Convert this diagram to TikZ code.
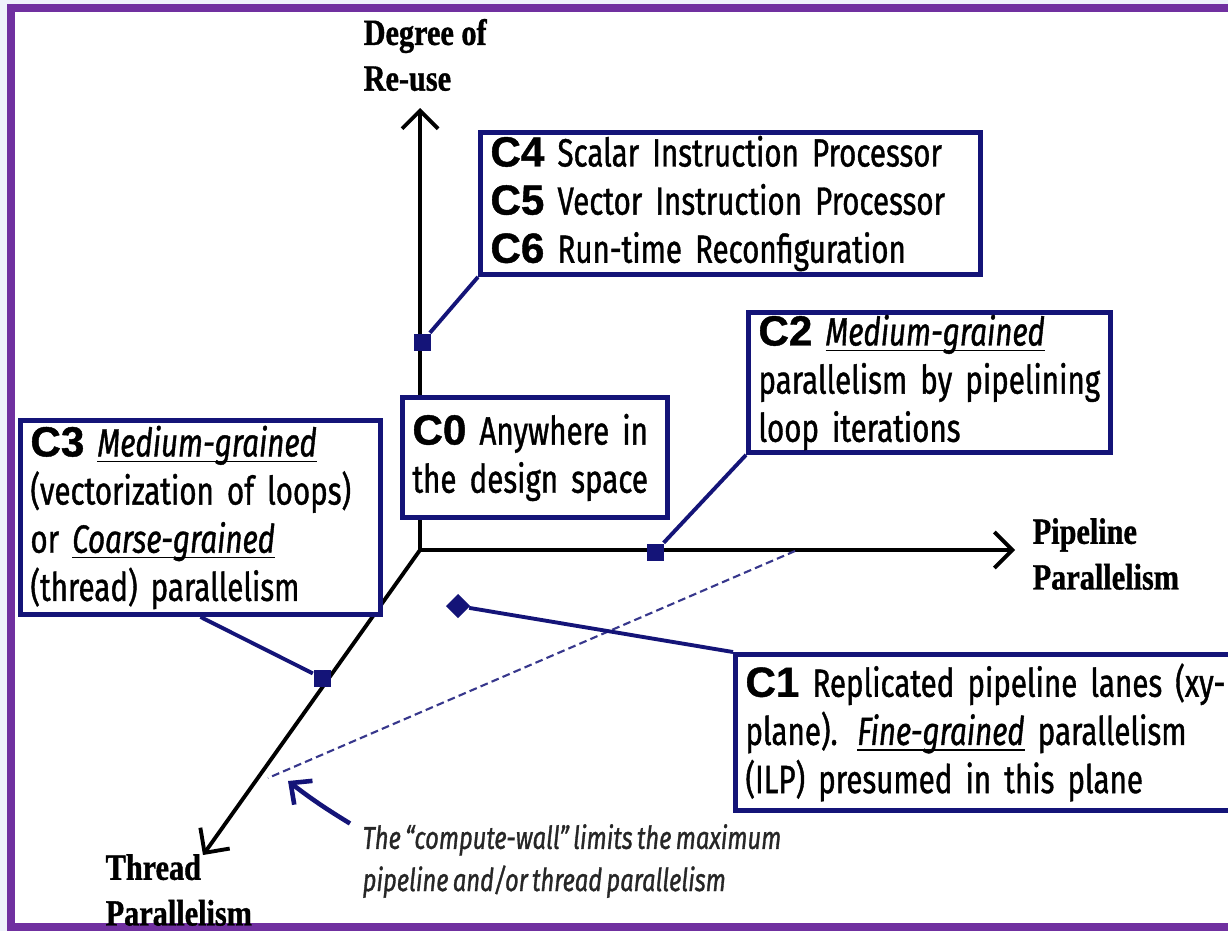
\documentclass[tikz,border=0pt]{standalone}
\usepackage{fontspec}
\setmainfont{Liberation Serif}
\newfontfamily\agency[FakeStretch=0.75, FakeBold=1, WordSpace=0.7]{Fira Sans}
\newfontfamily\tagfont[FakeBold=1]{Liberation Sans}
\newfontfamily\axisfont[FakeStretch=0.82, FakeBold=1]{Liberation Serif}
\usetikzlibrary{arrows.meta,calc}
\definecolor{navy}{RGB}{20,20,120}
\definecolor{frame}{RGB}{112,48,160}
\definecolor{outer}{RGB}{238,242,251}
\newcommand{\ctag}[1]{{\tagfont\bfseries\fontsize{12}{13.7}\selectfont #1}}
\newcommand{\grain}[1]{\underbar{\textit{#1}}}
\tikzset{
  box/.style={draw=navy, line width=1.4pt, fill=white, anchor=north west, align=left,
    inner xsep=0.1cm, inner ysep=0pt, font=\agency\fontsize{11.2}{13.7}\selectfont},
  axis/.style={line width=1.1pt, -{Straight Barb[length=1.8mm,width=3.6mm]}},
  link/.style={navy, line width=1.1pt},
  dot/.style={fill=navy, minimum size=0.17cm, inner sep=0pt},
  axlabel/.style={font=\axisfont\bfseries\fontsize{10.5}{13}\selectfont, align=left, anchor=west, inner sep=0pt}
}
\begin{document}
\begin{tikzpicture}
\useasboundingbox (0,0) rectangle (12.28,9.31);
\fill[outer] (0,0) rectangle (12.28,9.31); % page
\draw[frame, line width=0.08cm, fill=white] (0.11,0.04) rectangle (12.6,9.23); % frame

\coordinate (O) at (4.20,3.81); % origin
\coordinate (ytip) at (4.20,8.23);
\coordinate (xtip) at (10.15,3.81);
\coordinate (ttip) at (2.03,0.76);
\draw[axis] (O) -- (ytip); % re-use axis
\draw[axis] (O) -- (xtip); % pipeline axis
\draw[axis] (O) -- (ttip); % thread axis

\node[axlabel] (reuse) at (3.63,8.76) {Degree of\\Re-use};
\node[axlabel] (pipe) at (10.32,3.77) {Pipeline\\Parallelism};
\node[axlabel] (thread) at (1.05,0.41) {Thread\\Parallelism};

% compute wall
\coordinate (wallx) at (7.95,3.80);
\coordinate (wallt) at (2.68,1.53);
\draw[navy!85, line width=0.6pt, dash pattern=on 2.2pt off 1.2pt] (wallx) -- (wallt);

% boxes
\node[box, text width=4.8cm, minimum height=1.42cm] (c4) at (4.78,8.01)
  {\ctag{C4} Scalar Instruction Processor\\\ctag{C5} Vector Instruction Processor\\\ctag{C6} Run-time Reconfiguration};
\node[box, text width=3.42cm, minimum height=1.40cm] (c2) at (7.46,6.21)
  {\ctag{C2} \grain{Medium-grained}\\parallelism by pipelining\\loop iterations};
\node[box, text width=2.45cm, minimum height=1.20cm] (c0) at (4.00,5.36)
  {\ctag{C0} Anywhere in\\the design space};
\node[box, text width=3.40cm, minimum height=1.94cm] (c3) at (0.18,5.13)
  {\ctag{C3} \grain{Medium-grained}\\(vectorization of loops)\\or \grain{Coarse-grained}\\(thread) parallelism};
\node[box, text width=5.0cm, minimum height=1.56cm] (c1) at (7.33,2.79)
  {\ctag{C1} Replicated pipeline lanes (xy-\\plane). \grain{Fine-grained} parallelism\\(ILP) presumed in this plane};

% markers
\node[dot] (m4) at (4.22,5.89) {};
\node[dot] (m2) at (6.55,3.79) {};
\node[dot] (m3) at (3.22,2.53) {};
\node[dot, rotate=45] (m1) at (4.58,3.25) {};
\draw[link] (c4.south west) -- (m4);
\draw[link] (c2.south west) -- (m2);
\draw[link] (c3.south) -- (m3);
\draw[link] (c1.north west) -- (m1);

% note
\node[anchor=west, align=left, inner sep=0pt, text=black!85, font=\agency\itshape\fontsize{9}{12}\selectfont] (note) at (3.62,0.70)
  {The “compute-wall” limits the maximum\\pipeline and/or thread parallelism};
\coordinate (walltip) at (2.88,1.50);
\draw[navy, line width=1.3pt, -{Straight Barb[length=1.6mm,width=3mm]}] ($(note.north west)+(-0.12,0)$) to[bend left=3] (walltip);

\end{tikzpicture}
\end{document}
